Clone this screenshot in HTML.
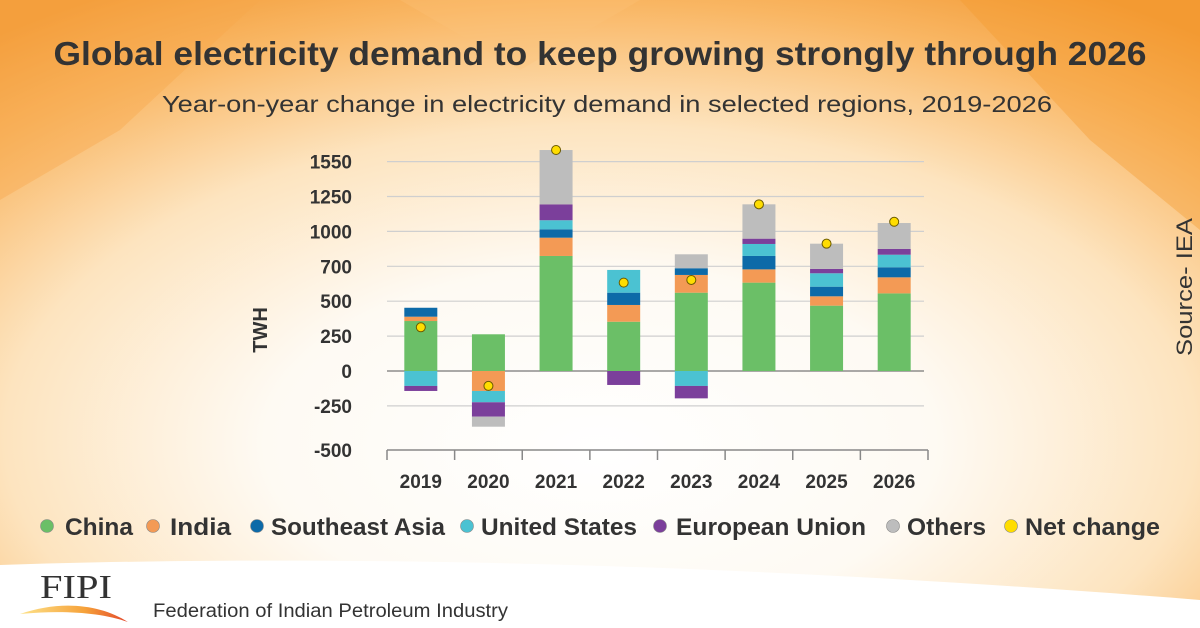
<!DOCTYPE html>
<html><head><meta charset="utf-8">
<style>
html,body{margin:0;padding:0;width:1200px;height:628px;overflow:hidden;background:#fff;}
svg{display:block;font-family:"Liberation Sans",sans-serif;}
</style></head>
<body>
<svg id="chart" width="1200" height="628" viewBox="0 0 1200 628" xmlns="http://www.w3.org/2000/svg">
<defs>
<radialGradient id="bg" cx="0.5" cy="0.68" r="0.8" fx="0.5" fy="0.72">
<stop offset="0" stop-color="#ffffff"/>
<stop offset="0.35" stop-color="#fefaf3"/>
<stop offset="0.62" stop-color="#fde4bf"/>
<stop offset="0.85" stop-color="#f9b663"/>
<stop offset="1" stop-color="#f29a35"/>
</radialGradient>
<linearGradient id="flame" x1="0" y1="0" x2="1" y2="0">
<stop offset="0" stop-color="#fde28a"/><stop offset="0.6" stop-color="#f6a23a"/><stop offset="1" stop-color="#e2462a"/>
</linearGradient>
</defs>
<rect x="0" y="0" width="1200" height="628" fill="url(#bg)"/>
<polygon points="0,0 260,0 120,130 0,200" fill="#f7a84a" opacity="0.4"/>
<polygon points="1200,0 960,0 1090,140 1200,230" fill="#f49a30" opacity="0.4"/>
<polygon points="400,0 640,0 520,70" fill="#fbc57a" opacity="0.3"/>
<path d="M0,565 C300,555 700,560 1200,600 L1200,628 L0,628 Z" fill="#ffffff"/>
<text x="600" y="65" text-anchor="middle" font-size="33" font-weight="bold" fill="#333" textLength="1093" lengthAdjust="spacingAndGlyphs">Global electricity demand to keep growing strongly through 2026</text>
<text x="607" y="112" text-anchor="middle" font-size="23" fill="#333" textLength="890" lengthAdjust="spacingAndGlyphs">Year-on-year change in electricity demand in selected regions, 2019-2026</text>
<text transform="translate(267,330) rotate(-90)" text-anchor="middle" font-size="20" font-weight="bold" fill="#333">TWH</text>
<text transform="translate(1192,287) rotate(-90)" text-anchor="middle" font-size="22" fill="#333" textLength="138" lengthAdjust="spacingAndGlyphs">Source- IEA</text>
<g id="grid"></g>
<g id="bars"></g>
<g id="xaxis"></g>
<g id="legend"></g>
<g>
<text x="40" y="598" font-family="Liberation Serif,serif" font-size="34" fill="#333" textLength="72" lengthAdjust="spacingAndGlyphs">FIPI</text>
<path d="M20,614 C60,600 100,604 128,622 C100,612 60,610 20,614 Z" fill="url(#flame)"/>
</g>
<text x="153" y="617" font-size="19" fill="#333" textLength="355" lengthAdjust="spacingAndGlyphs">Federation of Indian Petroleum Industry</text>
</svg>
<script>
const categories = ["2019","2020","2021","2022","2023","2024","2025","2026"];
const seriesNames = ["China","India","Southeast Asia","United States","European Union","Others"];
const china = [358, 263, 824, 353, 561, 633, 468, 556];
const india = [31, -143, 131, 120, 127, 95, 67, 115];
const seAsia = [64, 0, 60, 88, 48, 96, 69, 72];
const us = [-107, -81, 65, 163, -107, 86, 96, 90];
const eu = [-36, -103, 114, -100, -89, 38, 31, 41];
const others = [0, -72, 389, 0, 100, 246, 181, 186];
const netChange = [313, -107, 1583, 633, 652, 1194, 912, 1069];
const tickValues = [-250, 0, 250, 500, 750, 1000, 1250, 1500];
const tickLabels = ["-250", "0", "250", "500", "700", "1000", "1250", "1550"];
const bottomLabel = "-500";

const colors = ["#6bbf67","#f39a55","#0d6aa8","#4bc2d2","#7b3f9b","#bdbdbd"];
const series = [china, india, seAsia, us, eu, others];
const NS = "http://www.w3.org/2000/svg";
const X0 = 387, X1 = 928, Y0 = 371, PX = 0.1396, AXY = 450;
const bw = (X1 - X0) / categories.length;
function y(v){ return Y0 - v * PX; }
function xc(i){ return X0 + bw * (i + 0.5); }
function mk(tag, attrs, parent){ const e = document.createElementNS(NS, tag); for (const k in attrs) e.setAttribute(k, attrs[k]); parent.appendChild(e); return e; }

const grid = document.getElementById('grid');
tickValues.forEach((v) => {
  const ln = mk('line', {x1: X0, x2: 924, y1: y(v), y2: y(v), stroke: v === 0 ? '#777' : '#cfcfcf', 'stroke-width': v === 0 ? 1.3 : 1.2}, grid);
  
  
});
[bottomLabel].concat(tickLabels).forEach((lab, i) => {
  const yy = i === 0 ? AXY : y(tickValues[i - 1]);
  const t = mk('text', {x: 352, y: yy + 7, 'text-anchor': 'end', 'font-size': 19, 'font-weight': 'bold', fill: '#333'}, grid);
  t.textContent = lab;
  
  
});

const bars = document.getElementById('bars');
categories.forEach((c, i) => {
  let pos = 0, neg = 0;
  const bx = xc(i) - 16.5;
  series.forEach((s, k) => {
    const v = s[i];
    if (v === 0) return;
    let top, bot;
    if (v > 0) { bot = pos; pos += v; top = pos; } else { top = neg; neg += v; bot = neg; }
    const r = mk('rect', {x: bx, y: y(top), width: 33, height: y(bot) - y(top), fill: colors[k]}, bars);
    
    
  });
  const d = mk('circle', {cx: xc(i), cy: y(netChange[i]), r: 4.5, fill: '#ffdd00', stroke: '#6b5a00', 'stroke-width': 1}, bars);
  
  
});

const xa = document.getElementById('xaxis');
const ax = mk('line', {x1: X0, x2: X1, y1: AXY, y2: AXY, stroke: '#888', 'stroke-width': 1.5}, xa);


for (let i = 0; i <= categories.length; i++) {
  const tk = mk('line', {x1: X0 + bw * i, x2: X0 + bw * i, y1: AXY, y2: AXY + 10, stroke: '#888', 'stroke-width': 1.5}, xa);
  
  
}
categories.forEach((c, i) => {
  const t = mk('text', {x: xc(i), y: 488, 'text-anchor': 'middle', 'font-size': 19, 'font-weight': 'bold', fill: '#333'}, xa);
  t.textContent = c;
  
  
});

const legend = document.getElementById('legend');
const legItems = [
  ["China", colors[0], 47, 65, 68],
  ["India", colors[1], 153, 170, 61],
  ["Southeast Asia", colors[2], 257, 271, 174],
  ["United States", colors[3], 467, 481, 156],
  ["European Union", colors[4], 660, 676, 190],
  ["Others", colors[5], 893, 907, 79],
  ["Net change", "#ffdd00", 1011, 1025, 135]
];
legItems.forEach(it => {
  const g = mk('g', {}, legend);
  
  
  mk('circle', {cx: it[2], cy: 526, r: 6.5, fill: it[1], stroke: '#888', 'stroke-width': 0.6}, g);
  const t = mk('text', {x: it[3], y: 535, 'font-size': 24, 'font-weight': 'bold', fill: '#333', textLength: it[4], lengthAdjust: 'spacingAndGlyphs'}, g);
  t.textContent = it[0];
});
</script>
</body></html>
